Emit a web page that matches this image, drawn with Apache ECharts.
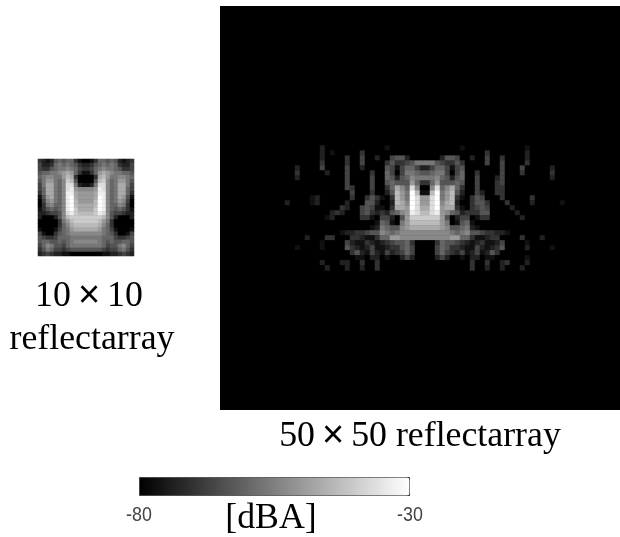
<!DOCTYPE html>
<html><head><meta charset="utf-8">
<script src="https://cdn.jsdelivr.net/npm/echarts@6/dist/echarts.min.js"></script>
<style>html,body{margin:0;padding:0;background:#fff}#c{width:620px;height:537px}</style>
</head><body><div id="c"></div>
<script>
// gray level 0 (=-80 dBA) .. f (=-30 dBA)
const dbMin = -80, dbMax = -30;
const smallLevels = [
"321256566310 013665652123",
"422367676532 235676763224",
"433567787643 346787765334",
"566778 9a9631 1369a9877665",
"678877 9ba300 003ab9778876",
"5799768cb500 005bc8679975",
"47aa768dd721 127dd867aa74",
"46aa768de988 889ed867aa64",
"36aa768eea99 99aee867aa63",
"159a768efa99 99afe867a951",
"0489768efb99 99bfe8679840",
"0378668efbaa aabfe8668730",
"1356568efcaa aacfe8656531",
"2234458decbb bbced8544322",
"2000258bcccc ccccb8520002",
"00000379bccc cccb97300000",
"00000368abbb bbba86300000",
"100014679aaa aaa976410001",
"410035678888 888876530014",
"543346667777 777766643345",
"566556567888 888765655665",
"468755467777 777764557864",
"357644345555 555543446753",
"234322110000 000011223432"
];
const bigLevels = [
"0000000200 0000000000 1000000000 0000010000 0000000010 0000000",
"0000000201 0000030000 0000000000 0000000000 3000000020 0000000",
"0000000200 0030040020 0455200000 0255400200 4003000020 0000000",
"0000000300 0030040000 3533457777 5433530000 4004000030 0000000",
"0020000400 0040020000 5414664224 6641450000 0004000400 0002000",
"0030000020 0040000300 6404776556 7740460030 0004000300 0003000",
"0020000000 0040000400 6525687777 8652560040 0024000000 0002000",
"0000000000 0040000400 5655596336 9555650040 0034000000 0000000",
"0000000000 0043000400 36a86d8008 d68a630040 0033000000 0000000",
"0000000000 0004000300 25b97fb11b f79b520042 0033000000 0000000",
"0000012000 0003003531 03b97fd99d f79b310354 0003000003 0000000",
"2000012000 0020005520 02ba8fd99d f8ab200355 3000300002 0000010",
"0000000000 0320045411 03aa9fdaad f9aa310345 4000020000 0000000",
"0000000002 3200045323 25689edbbd e986523335 5000002000 0000000",
"0000000012 0000033104 42059ccccc c950244013 3000000200 0000000",
"0000000000 0000000016 51079bbbbb b970156100 0000000000 0000000",
"0000000000 0000000127 65589aaaaa a985567210 0000000000 0000000",
"0000000000 0122334558 7678888888 8887678554 3322100000 0000000",
"0000200033 0003321136 6998888888 8889966311 2330000300 0200000",
"0000000100 0042113212 3455630000 3655432123 1124000010 0000000",
"0010000100 0053212411 2335640000 4653321142 1235000020 0001000",
"0000000000 0003521421 4234640000 4643241241 2530000000 0000000",
"0000000000 0000110220 1002420000 2420010220 1100000010 0000000",
"0000000200 0220030030 0000000000 0000000300 3002300020 0000000",
"0000000020 0020020030 0000000000 0000000300 2002000200 0000000"
];
const smallGridSize = 24, bigCols = 80, bigRows = 81, bigColOffset = 13, bigRowOffset = 28;

const toDb = d => dbMin + parseInt(d, 16) * (dbMax - dbMin) / 15;
const clean = s => s.replace(/\s+/g, '');
const smallData = [];
smallLevels.map(clean).forEach((row, r) => row.split('').forEach((d, c) => smallData.push([c, r, toDb(d)])));
const bigData = [];
bigLevels.map(clean).forEach((row, r) => row.split('').forEach((d, c) => bigData.push([c + bigColOffset, r + bigRowOffset, toDb(d)])));
const range = n => Array.from({length: n}, (_, i) => i);

const serif = '"Liberation Serif"';
const label = (x, y, text, size, extra) => ({
  type: 'text', x, y, silent: true,
  style: Object.assign({text, fill: '#000', fontFamily: serif, fontSize: size, textAlign: 'center', textVerticalAlign: 'middle'}, extra || {})
});
const richStyle = {rich: {x: {fontFamily: '"Liberation Sans"', fontWeight: 'normal', fontSize: 38, fill: '#000', padding: [0, 7, 0, 7]},
                          t: {fontFamily: serif, fontSize: 35.8, fill: '#000'}}};
const tickStyle = {fontFamily: '"Liberation Sans"', fill: '#444'};

const chart = echarts.init(document.getElementById('c'), null, {renderer: 'canvas'});
chart.setOption({
  animation: false,
  backgroundColor: '#fff',
  grid: [
    {left: 38, top: 159, width: 96, height: 97, show: true, backgroundColor: '#000', borderWidth: 0},
    {left: 220, top: 6, width: 400, height: 404, show: true, backgroundColor: '#000', borderWidth: 0}
  ],
  xAxis: [
    {type: 'category', gridIndex: 0, data: range(smallGridSize), show: false},
    {type: 'category', gridIndex: 1, data: range(bigCols), show: false}
  ],
  yAxis: [
    {type: 'category', gridIndex: 0, data: range(smallGridSize), show: false, inverse: true},
    {type: 'category', gridIndex: 1, data: range(bigRows), show: false, inverse: true}
  ],
  visualMap: {
    type: 'continuous', min: dbMin, max: dbMax, orient: 'horizontal', seriesIndex: [0, 1],
    left: 139, top: 477, itemWidth: 18, itemHeight: 270, padding: 0,
    calculable: false, hoverLink: false, showLabel: false, text: ['', ''],
    borderColor: '#333', borderWidth: 1,
    inRange: {color: ['#000000', '#ffffff']}
  },
  series: [
    {type: 'heatmap', xAxisIndex: 0, yAxisIndex: 0, data: smallData, progressive: 0, silent: true, itemStyle: {borderWidth: 0}},
    {type: 'heatmap', xAxisIndex: 1, yAxisIndex: 1, data: bigData, progressive: 0, silent: true, itemStyle: {borderWidth: 0}}
  ],
  graphic: [
    label(89, 297, '{t|10}{x|×}{t|10}', 35.8, richStyle),
    label(92, 340, 'reflectarray', 35.8),
    label(420, 437, '{t|50}{x|×}{t|50 reflectarray}', 35.8, richStyle),
    label(271, 519, '[dBA]', 35.8),
    Object.assign(label(139, 515, '-80', 21, tickStyle), {scaleX: 0.85}),
    Object.assign(label(410, 515, '-30', 21, tickStyle), {scaleX: 0.85})
  ]
});
</script></body></html>
